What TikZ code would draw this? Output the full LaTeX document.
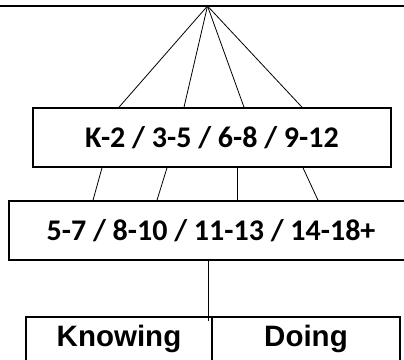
\documentclass[tikz,border=0pt]{standalone}
\usepackage{fontspec}
\setmainfont{Carlito}
\newfontfamily\arialfont{Liberation Sans}
\begin{document}
\begin{tikzpicture}
[x = 1pt, y = -1pt,
 agebox/.style = {draw = black, line width = 1.6pt, inner sep = 0pt, font = \bfseries\fontsize{30}{32}\selectfont, minimum height = 59pt},
 kindbox/.style = {draw = black, line width = 1.6pt, inner ysep = 0pt, font = \arialfont\bfseries\fontsize{29.5}{31}\selectfont, minimum height = 60pt, text height = 30pt, text depth = 30pt, anchor = north},
 link/.style = {draw = black, line width = 0.8pt}
 ]
\clip (0,0) rectangle (404,359);
\draw [line width = 1.6pt] (0,6) -- (404,6);
\coordinate (apex) at (207.5,6);
\node [agebox, minimum width = 358pt] (grades) at (212,137.5) {K-2 / 3-5 / 6-8 / 9-12};
\node [agebox, minimum width = 404pt] (ages) at (211,230.5) {5-7 / 8-10 / 11-13 / 14-18+};
\node [kindbox, minimum width = 186pt] (knowing) at (119,316) {Knowing};
\node [kindbox, minimum width = 188pt] (doing) at (306,316) {Doing};
\draw [link] (apex) -- (grades.north -| 119,0);
\draw [link] (apex) -- (grades.north -| 184,0);
\draw [link] (apex) -- (grades.north -| 244,0);
\draw [link] (apex) -- (grades.north -| 302,0);
\draw [link] (grades.south -| 102,0) -- (ages.north -| 93,0);
\draw [link] (grades.south -| 167,0) -- (ages.north -| 157,0);
\draw [link] (grades.south -| 237,0) -- (ages.north -| 237,0);
\draw [link] (grades.south -| 303,0) -- (ages.north -| 318,0);
\coordinate (stem) at (208,321);
\draw [link] (ages.south -| stem) -- (stem);
\end{tikzpicture}
\end{document}
